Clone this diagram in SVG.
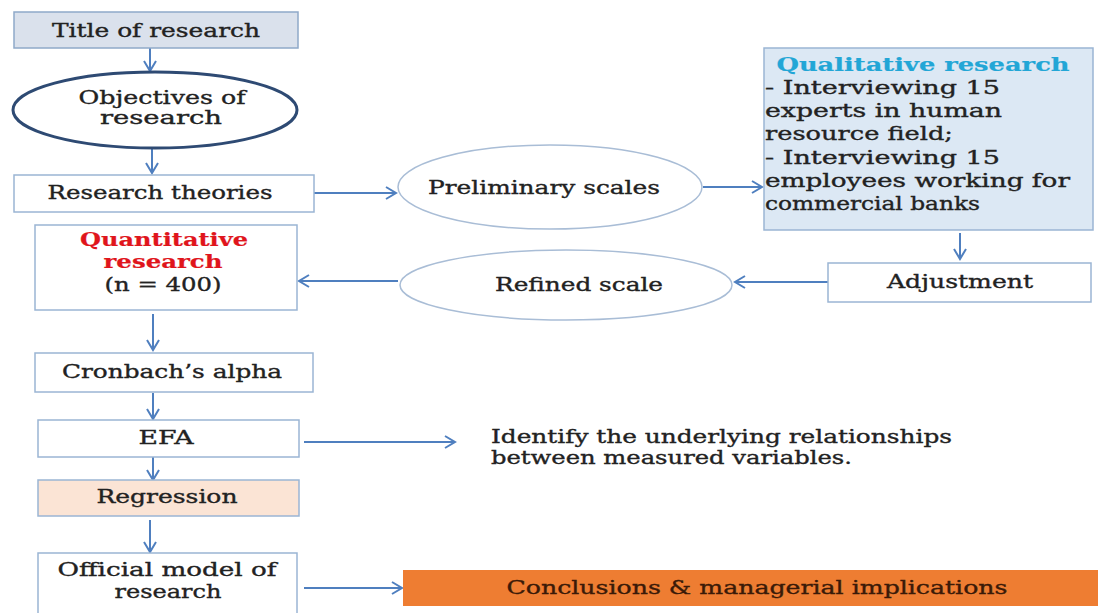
<svg xmlns="http://www.w3.org/2000/svg" width="1098" height="613" viewBox="0 0 1098 613">
<style>
  .box{fill:#ffffff;stroke:#9bb5d4;stroke-width:1.5}
  .t{font-family:"DejaVu Serif","Liberation Serif",serif;font-size:18.5px;fill:#222;stroke:#222;stroke-width:0.35px}
  .c{text-anchor:middle}
  .b{font-weight:bold}
  .con line{stroke:#4f7fbf;stroke-width:2;marker-end:url(#ah)}
</style>
<defs>
  <marker id="ah" markerUnits="userSpaceOnUse" markerWidth="14" markerHeight="14" refX="11" refY="7" orient="auto">
    <path d="M1,1 L11,7 L1,13" fill="none" stroke="#4f7fbf" stroke-width="2"/>
  </marker>
</defs>
<rect width="1098" height="613" fill="#ffffff"/>
<g class="con">
  <line x1="150" y1="48" x2="150" y2="71"/>
  <line x1="152" y1="148" x2="152" y2="173"/>
  <line x1="314" y1="193" x2="396" y2="193"/>
  <line x1="703" y1="187" x2="762" y2="187"/>
  <line x1="960" y1="233" x2="960" y2="259"/>
  <line x1="828" y1="282" x2="735" y2="282"/>
  <line x1="398" y1="281" x2="299" y2="281"/>
  <line x1="153" y1="314" x2="153" y2="350"/>
  <line x1="153" y1="393" x2="153" y2="419"/>
  <line x1="304" y1="442" x2="455" y2="442"/>
  <line x1="153" y1="457" x2="153" y2="480"/>
  <line x1="150" y1="520" x2="150" y2="552"/>
  <line x1="304" y1="588" x2="402" y2="588"/>
</g>
<g id="title">
  <rect x="14" y="12" width="284" height="36" fill="#dae1ec" stroke="#8fa9c9" stroke-width="1.5"/>
  <text class="t c" x="156" y="37" textLength="208" lengthAdjust="spacingAndGlyphs">Title of research</text>
</g>
<g id="objectives">
  <ellipse cx="155" cy="110" rx="142" ry="38" fill="#ffffff" stroke="#2e4a73" stroke-width="3"/>
  <text class="t c" x="162" y="104" textLength="167" lengthAdjust="spacingAndGlyphs">Objectives of</text>
  <text class="t c" x="161" y="124" textLength="122" lengthAdjust="spacingAndGlyphs">research</text>
</g>
<g id="theories">
  <rect class="box" x="14" y="175" width="300" height="37"/>
  <text class="t c" x="160" y="199" textLength="225" lengthAdjust="spacingAndGlyphs">Research theories</text>
</g>
<g id="preliminary">
  <ellipse cx="550" cy="187" rx="152" ry="42" fill="#ffffff" stroke="#a9bdd6" stroke-width="1.5"/>
  <text class="t c" x="544" y="194" textLength="232" lengthAdjust="spacingAndGlyphs">Preliminary scales</text>
</g>
<g id="qualitative">
  <rect x="764" y="48" width="329" height="182" fill="#dce8f4" stroke="#9bb5d4" stroke-width="1.5"/>
  <text class="t c b" x="923" y="71" style="fill:#22a6d6;stroke:#22a6d6;stroke-width:0.2px" textLength="293" lengthAdjust="spacingAndGlyphs">Qualitative research</text>
  <text class="t" x="765" y="94" textLength="235" lengthAdjust="spacingAndGlyphs">- Interviewing 15</text>
  <text class="t" x="765" y="117" textLength="237" lengthAdjust="spacingAndGlyphs">experts in human</text>
  <text class="t" x="765" y="140" textLength="188" lengthAdjust="spacingAndGlyphs">resource field;</text>
  <text class="t" x="765" y="164" textLength="235" lengthAdjust="spacingAndGlyphs">- Interviewing 15</text>
  <text class="t" x="765" y="187" textLength="305" lengthAdjust="spacingAndGlyphs">employees working for</text>
  <text class="t" x="765" y="210" textLength="215" lengthAdjust="spacingAndGlyphs">commercial banks</text>
</g>
<g id="adjustment">
  <rect class="box" x="828" y="263" width="263" height="39"/>
  <text class="t c" x="960" y="288" textLength="146" lengthAdjust="spacingAndGlyphs">Adjustment</text>
</g>
<g id="refined">
  <ellipse cx="566" cy="285" rx="166" ry="35" fill="#ffffff" stroke="#a9bdd6" stroke-width="1.5"/>
  <text class="t c" x="579" y="291" textLength="168" lengthAdjust="spacingAndGlyphs">Refined scale</text>
</g>
<g id="quantitative">
  <rect class="box" x="35" y="225" width="262" height="85"/>
  <text class="t c b" x="164" y="246" style="fill:#e0151c;stroke:#e0151c;stroke-width:0.2px" textLength="168" lengthAdjust="spacingAndGlyphs">Quantitative</text>
  <text class="t c b" x="163" y="268" style="fill:#e0151c;stroke:#e0151c;stroke-width:0.2px" textLength="119" lengthAdjust="spacingAndGlyphs">research</text>
  <text class="t c" x="163" y="291" textLength="117" lengthAdjust="spacingAndGlyphs">(n = 400)</text>
</g>
<g id="cronbach">
  <rect class="box" x="35" y="353" width="278" height="39"/>
  <text class="t c" x="172" y="378" textLength="220" lengthAdjust="spacingAndGlyphs">Cronbach’s alpha</text>
</g>
<g id="efa">
  <rect class="box" x="38" y="420" width="261" height="37"/>
  <text class="t c" x="166" y="444" textLength="55" lengthAdjust="spacingAndGlyphs">EFA</text>
</g>
<g id="identify">
  <text class="t" x="491" y="443" textLength="461" lengthAdjust="spacingAndGlyphs">Identify the underlying relationships</text>
  <text class="t" x="491" y="464" textLength="361" lengthAdjust="spacingAndGlyphs">between measured variables.</text>
</g>
<g id="regression">
  <rect x="38" y="480" width="261" height="36" fill="#fbe4d5" stroke="#9bb5d4" stroke-width="1.5"/>
  <text class="t c" x="167" y="503" textLength="141" lengthAdjust="spacingAndGlyphs">Regression</text>
</g>
<g id="official">
  <rect class="box" x="38" y="553" width="259" height="70"/>
  <text class="t c" x="167" y="576" textLength="219" lengthAdjust="spacingAndGlyphs">Official model of</text>
  <text class="t c" x="168" y="598" textLength="107" lengthAdjust="spacingAndGlyphs">research</text>
</g>
<g id="conclusions">
  <rect x="403" y="570" width="695" height="36" fill="#ee7d32"/>
  <text class="t c" x="757" y="594" style="fill:#3a1a08;stroke:#3a1a08" textLength="501" lengthAdjust="spacingAndGlyphs">Conclusions &amp; managerial implications</text>
</g>
</svg>
